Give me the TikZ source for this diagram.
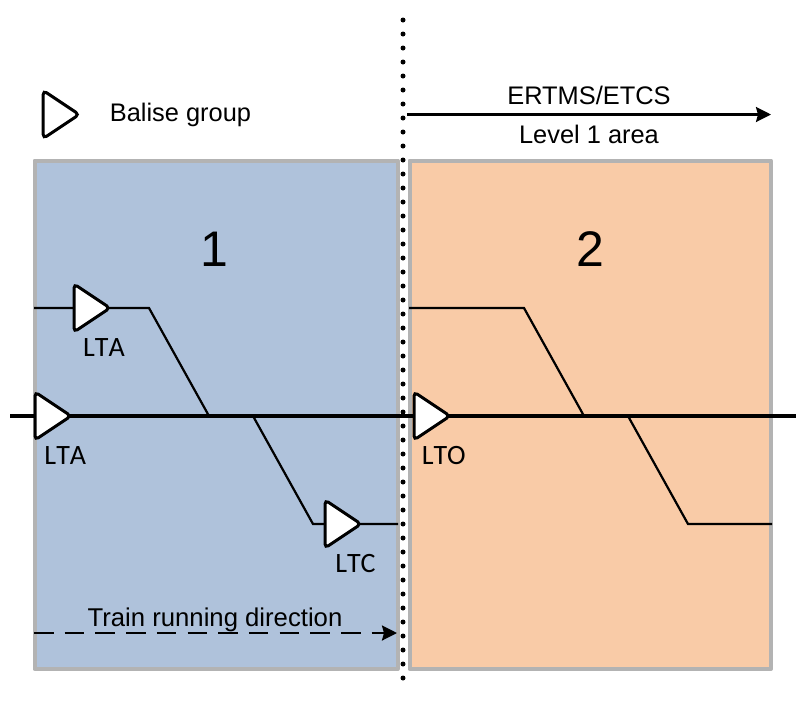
\documentclass[tikz,border=0pt]{standalone}
\usepackage{fontspec}
\setmainfont{Liberation Sans}
\newfontfamily\calfont[Kerning=Off]{Carlito}
\usetikzlibrary{arrows.meta}
\definecolor{zoneblue}{HTML}{AFC2DB}
\definecolor{zoneorange}{HTML}{F9CBA7}
\definecolor{zonegrey}{HTML}{B3B3B3}
\tikzset{
  x=1pt,y=-1pt,
  zone/.style={draw=zonegrey,line width=4pt,line join=round},
  thin track/.style={draw=black,line width=2.2pt,line join=miter},
  main track/.style={draw=black,line width=4.4pt},
  balise/.pic={\draw[fill=white,draw=black,line width=3pt,rounded corners=4pt] (0,-24) -- (36,0) -- (0,24) -- cycle;},
  arrowline/.style={draw=black,line width=2.3pt,-{Stealth[length=15pt,width=15pt,inset=2pt]}},
  sans label/.style={font=\fontsize{25.4}{30}\selectfont,inner sep=0pt,anchor=base},
  dir label/.style={font=\fontsize{25.7}{30}\selectfont,inner sep=0pt,anchor=base},
  cal label/.style={font=\calfont\fontsize{28}{32}\selectfont,inner sep=0pt,anchor=base},
  zone number/.style={font=\fontsize{50}{56}\selectfont,inner sep=0pt,anchor=base},
}
\begin{document}
\begin{tikzpicture}
\useasboundingbox (0,0) rectangle (796,702);
% zones
\path[zone,fill=zoneblue] (34.5,160.5) rectangle (397.5,669);
\path[zone,fill=zoneorange] (409.5,160.5) rectangle (771,669);
% track points, zone 1
\coordinate (a0) at (34,308);
\coordinate (a1) at (149,308);
\coordinate (a2) at (209,416);
\coordinate (c0) at (253,416);
\coordinate (c1) at (313,524);
\coordinate (c2) at (398,524);
% track points, zone 2
\coordinate (d0) at (409,308);
\coordinate (d1) at (524,308);
\coordinate (d2) at (584,416);
\coordinate (e0) at (628,416);
\coordinate (e1) at (688,524);
\coordinate (e2) at (772,524);
\coordinate (m0) at (10,416);
\coordinate (m1) at (796,416);
\draw[main track] (m0) -- (m1);
\draw[thin track] (a0) -- (a1) -- (a2);
\draw[thin track] (c0) -- (c1) -- (c2);
\draw[thin track] (d0) -- (d1) -- (d2);
\draw[thin track] (e0) -- (e1) -- (e2);
% boundary
\coordinate (bTop) at (403,20);
\coordinate (bBot) at (403,692);
\draw[line width=5pt,line cap=round,dash pattern=on 0pt off 14pt] (bTop) -- (bBot);
% balises
\pic at (43.2,114.5) {balise};
\pic at (74,308) {balise};
\pic at (35,416) {balise};
\pic at (325,524) {balise};
\pic at (414,416) {balise};
% labels
\node[sans label] (legend) at (180.5,121.7) {Balise group};
\node[cal label] (lta1) at (104,356) {LTA};
\node[cal label] (lta2) at (65.3,464) {LTA};
\node[cal label] (ltc) at (355.5,572.7) {LTC};
\node[cal label] (lto) at (443.8,464) {LTO};
\node[zone number] (z1) at (214,266.7) {1};
\node[zone number] (z2) at (590,266.7) {2};
\node[sans label] (ertms) at (589,104.5) {ERTMS/ETCS};
\node[sans label] (level) at (589,143) {Level 1 area};
\node[dir label] (dir) at (215,626) {Train running direction};
% arrows
\coordinate (ar0) at (407,114.5);
\coordinate (ar1) at (771,114.5);
\draw[arrowline] (ar0) -- (ar1);
\coordinate (tr0) at (34,633);
\coordinate (tr1) at (397,633);
\draw[arrowline,dash pattern=on 19.5pt off 11.2pt] (tr0) -- (tr1);
\end{tikzpicture}
\end{document}
